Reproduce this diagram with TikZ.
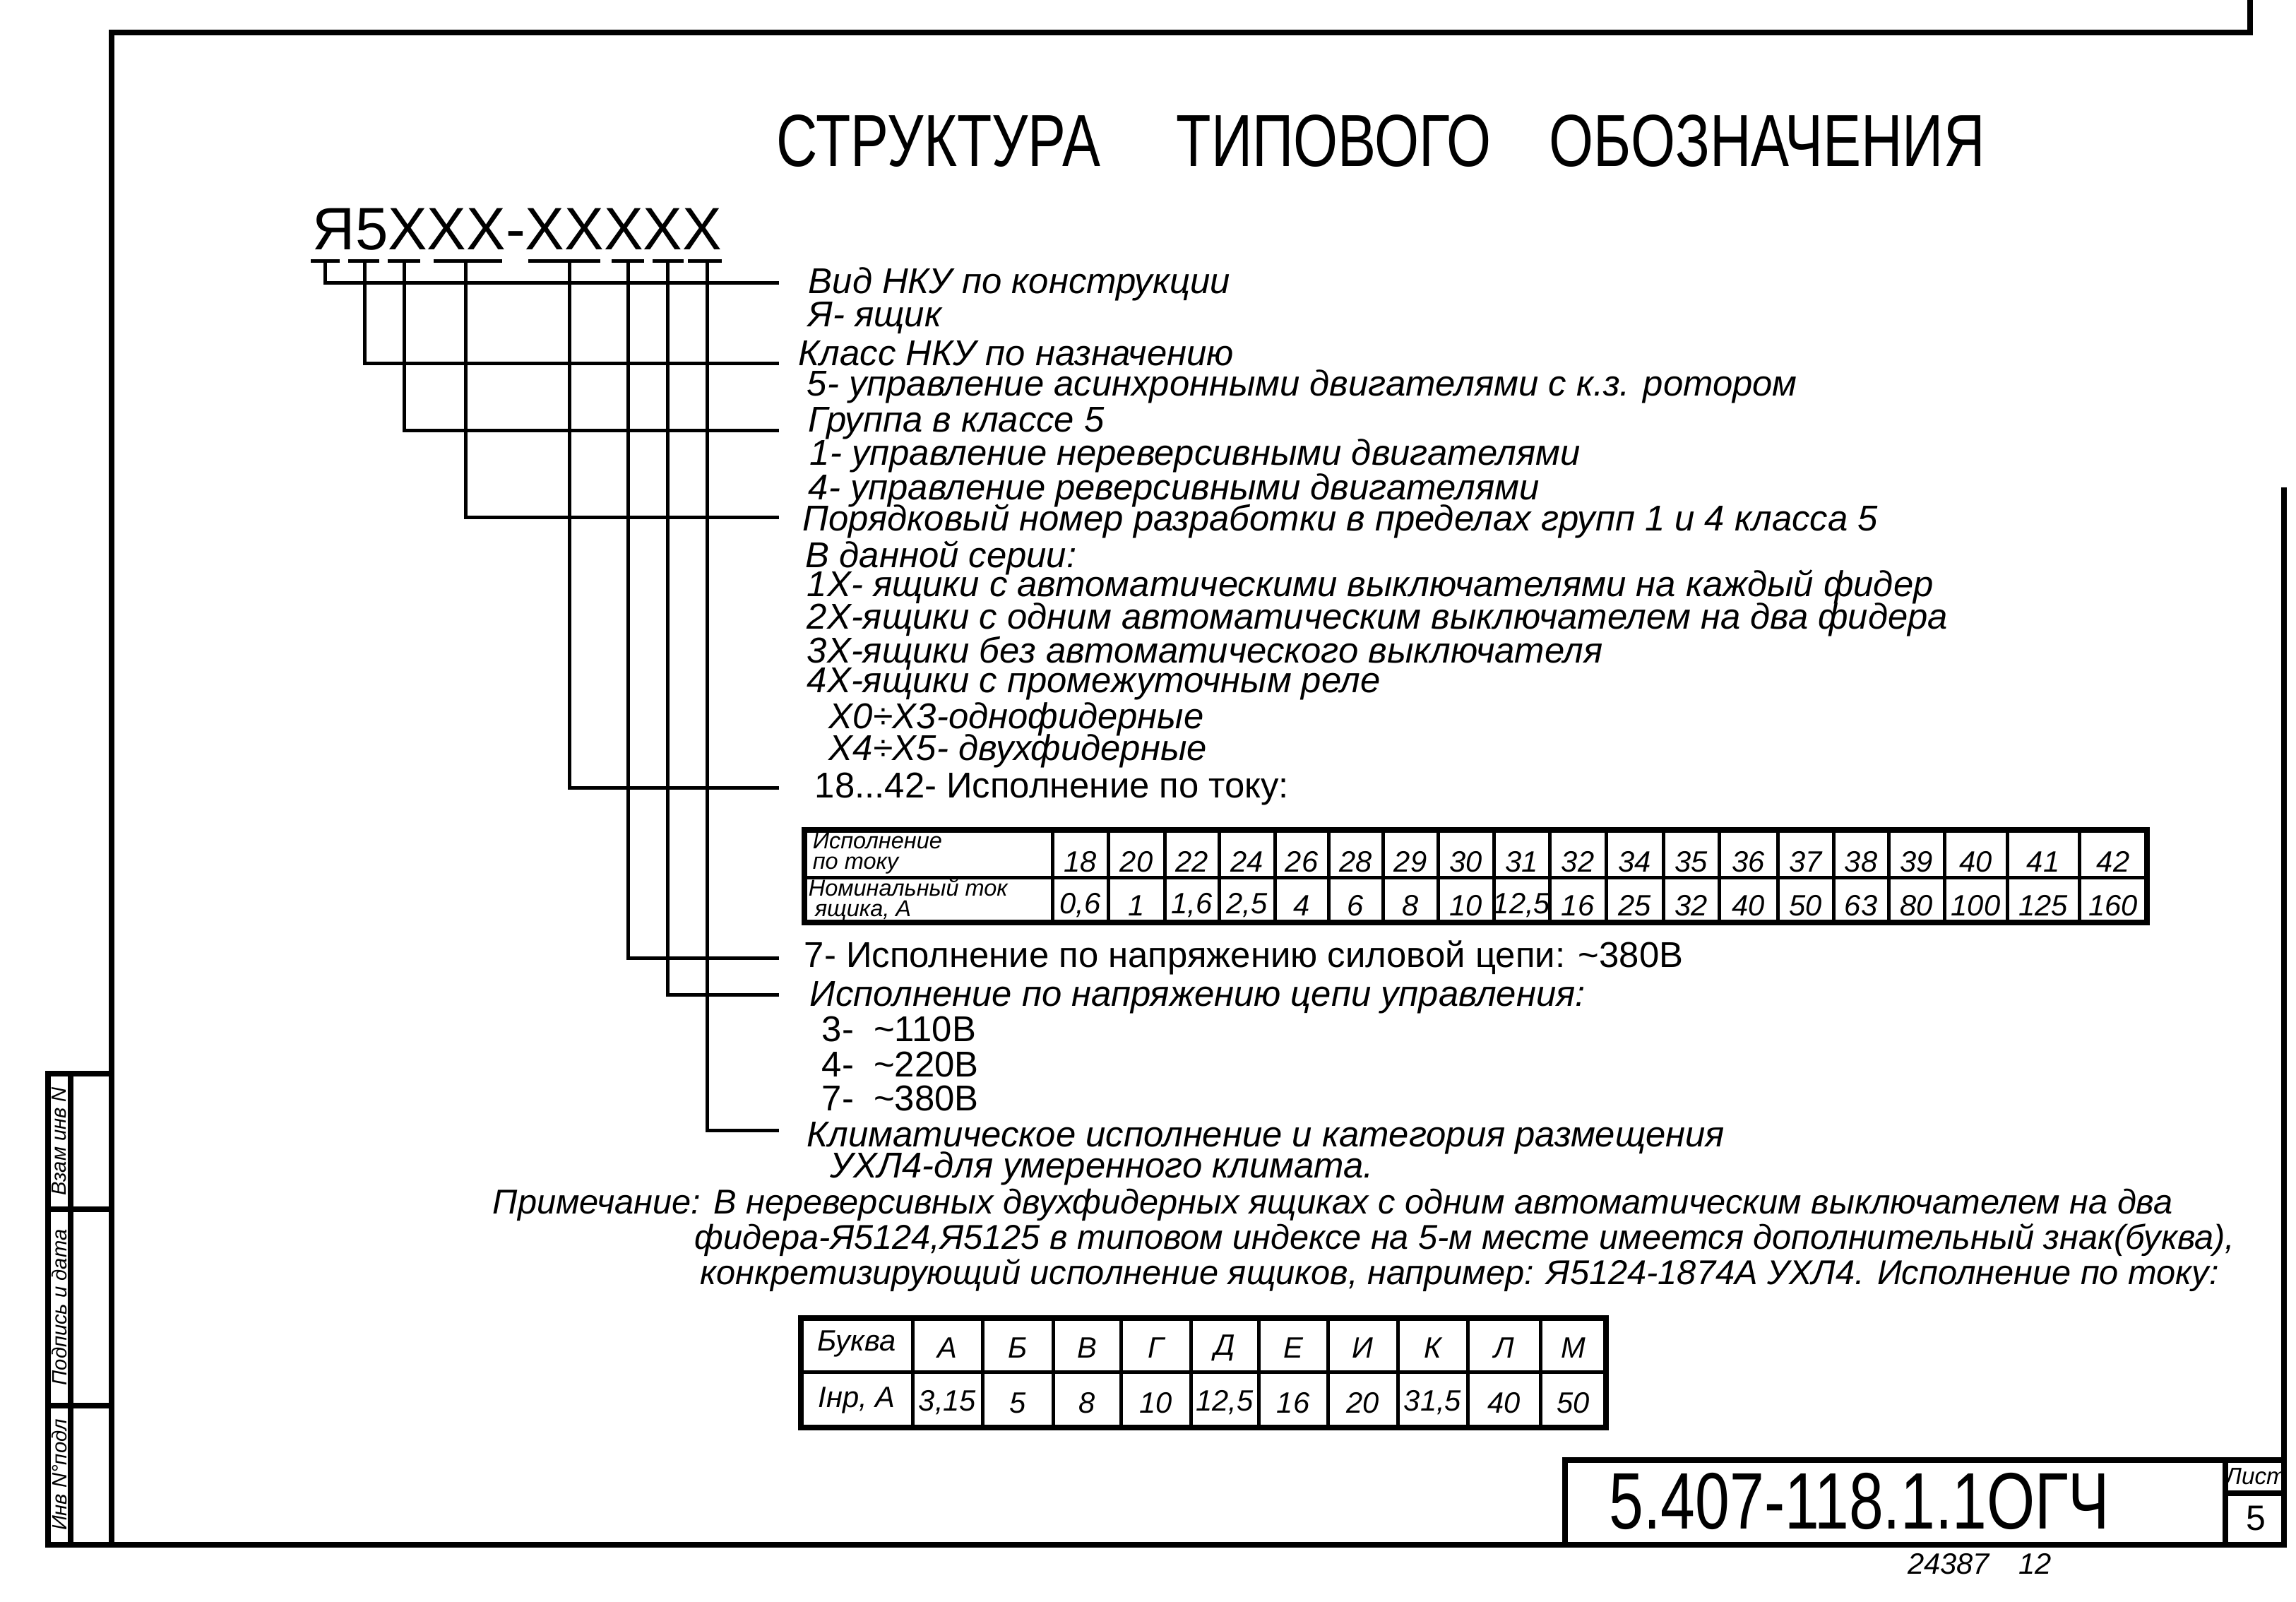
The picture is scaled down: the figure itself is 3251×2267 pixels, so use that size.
\documentclass[tikz,border=0pt]{standalone}
\usepackage{fontspec}
\setmainfont{Liberation Sans}
\usepackage{graphicx}
\tikzset{
  ln/.style={line width=1.2pt},
  fr/.style={line width=1.8pt},
  tx/.style={anchor=west,inner sep=0pt,font=\fontsize{12.2}{12.5}\selectfont\itshape},
  nt/.style={anchor=west,inner sep=0pt,font=\fontsize{11.7}{12}\selectfont\itshape},
  up/.style={anchor=west,inner sep=0pt,font=\fontsize{12.2}{12.5}\selectfont},
  cell/.style={inner sep=0pt,font=\fontsize{10}{10}\selectfont\itshape},
  small/.style={inner sep=0pt,align=left,font=\fontsize{7.8}{7}\selectfont\itshape},
}
\begin{document}
\begin{tikzpicture}[x=0.24pt,y=-0.24pt]
\useasboundingbox (0,0) rectangle (3251,2267);
% frame
\draw[fr] (3186,0) -- (3186,46) -- (158,46) -- (158,2187) -- (3234,2187) -- (3234,690);
\draw[fr] (68,1520) rectangle (158,2187);
\draw[fr] (100,1520) -- (100,2187) (68,1712) -- (158,1712) (68,1990) -- (158,1990);
\node[rotate=90,cell,font=\fontsize{7}{7}\selectfont\itshape] (s1) at (84,1616) {Взам инв N};
\node[rotate=90,cell,font=\fontsize{7}{7}\selectfont\itshape] (s2) at (84,1851) {Подпись и дата};
\node[rotate=90,cell,font=\fontsize{7}{7}\selectfont\itshape] (s3) at (84,2088) {Инв N°подл};
% title
\node[inner sep=0pt,anchor=south west] (t1) at (1099,237) {\resizebox{110pt}{17.5pt}{СТРУКТУРА}};
\node[inner sep=0pt,anchor=south west] (t2) at (1665,237) {\resizebox{107pt}{17.5pt}{ТИПОВОГО}};
\node[inner sep=0pt,anchor=south west] (t3) at (2193,237) {\resizebox{148pt}{17.5pt}{ОБОЗНАЧЕНИЯ}};
% code
\node[inner sep=0pt,anchor=south west] (code) at (442,355) {\resizebox{139pt}{14pt}{Я5XXX-XXXXX}};
% bars and stems
\foreach \a/\b/\s/\yy [count=\i] in {440/481/460/400,493/537/516/514,549/595/572/609,614/711/659/732,748/850/806/1115,866/912/889/1356,924/968/945/1408,974/1022/1001/1600}{
  \coordinate (bl\i) at (\a,369); \coordinate (br\i) at (\b,369);
  \coordinate (top\i) at (\s,369); \coordinate (knee\i) at (\s,\yy); \coordinate (end\i) at (1103,\yy);
  \draw[ln] (bl\i) -- (br\i);
  \draw[ln] (top\i) -- (knee\i) -- (end\i);
}
% texts
\node[tx] (l1) at (1144,402) {Вид НКУ по конструкции};
\node[tx] (l2) at (1144,450) {Я- ящик};
\node[tx] (l3) at (1130,500) {Класс НКУ по назначению};
\node[tx] (l4) at (1142,547) {5- управление асинхронными двигателями с к.з. ротором};
\node[tx] (l5) at (1144,599) {Группа в классе 5};
\node[tx] (l6) at (1146,645) {1- управление нереверсивными двигателями};
\node[tx] (l7) at (1144,694) {4- управление реверсивными двигателями};
\node[tx] (l8) at (1136,738) {Порядковый номер разработки в пределах групп 1 и 4 класса 5};
\node[tx] (l9) at (1140,790) {В данной серии:};
\node[tx] (l10) at (1142,831) {1Х- ящики с автоматическими выключателями на каждый фидер};
\node[tx] (l11) at (1142,877) {2Х-ящики с одним автоматическим выключателем на два фидера};
\node[tx] (l12) at (1142,925) {3Х-ящики без автоматического выключателя};
\node[tx] (l13) at (1142,968) {4Х-ящики с промежуточным реле};
\node[tx] (l14) at (1173,1018) {Х0÷Х3-однофидерные};
\node[tx] (l15) at (1173,1063) {Х4÷Х5- двухфидерные};
\node[up] (l16) at (1153,1117) {18...42- Исполнение по току:};
\node[up] (l17) at (1138,1356) {7- Исполнение по напряжению силовой цепи: \textasciitilde 380В};
\node[tx] (l18) at (1146,1412) {Исполнение по напряжению цепи управления:};
\node[up] (l19) at (1163,1457) {3- \ \textasciitilde 110В};
\node[up] (l20) at (1163,1507) {4- \ \textasciitilde 220В};
\node[up] (l21) at (1163,1555) {7- \ \textasciitilde 380В};
\node[tx] (l22) at (1142,1611) {Климатическое исполнение и категория размещения};
\node[tx] (l23) at (1175,1654) {УХЛ4-для умеренного климата.};
\node[nt] (n1) at (697,1706) {Примечание: В нереверсивных двухфидерных ящиках с одним автоматическим выключателем на два};
\node[nt] (n2) at (983,1756) {фидера-Я5124,Я5125 в типовом индексе на 5-м месте имеется дополнительный знак(буква),};
\node[nt] (n3) at (991,1806) {конкретизирующий исполнение ящиков, например: Я5124-1874А УХЛ4. Исполнение по току:};
% table 1
\draw[fr] (1139,1175) rectangle (3040,1306);
\draw[ln] (1139,1242) -- (3040,1242);
\node[small,anchor=west] (h1) at (1150,1208) {Исполнение\\ по току};
\node[small,anchor=west] (h2) at (1144,1274) {Номинальный ток\\ \ ящика, А};
\foreach \xa/\xb/\u/\v in {1490/1569/18/{0,6}, 1569/1649/20/1, 1649/1726/22/{1,6}, 1726/1805/24/{2,5}, 1805/1881/26/4, 1881/1958/28/6, 1958/2036/29/8, 2036/2115/30/10, 2115/2194/31/{12,5}, 2194/2274/32/16, 2274/2355/34/25, 2355/2434/35/32, 2434/2517/36/40, 2517/2596/37/50, 2596/2674/38/63, 2674/2753/39/80, 2753/2842/40/100, 2842/2944/41/125, 2944/3040/42/160}{
  \draw[ln] (\xa,1175) -- (\xa,1306);
  \node[cell] at ({(\xa+\xb)/2},1220) {\u};
  \node[cell] at ({(\xa+\xb)/2},1282) {\v};
}
% table 2
\draw[fr] (1134,1866) rectangle (2274,2021);
\draw[ln] (1134,1942) -- (2274,1942);
\node[cell] (b1) at (1213,1902) {Буква};
\node[cell] (b2) at (1213,1982) {Iнр, А};
\foreach \xa/\xb/\u/\v in {1292/1391/А/{3,15}, 1391/1491/Б/5, 1491/1587/В/8, 1587/1686/Г/10, 1686/1782/Д/{12,5}, 1782/1880/Е/16, 1880/1979/И/20, 1979/2078/К/{31,5}, 2078/2181/Л/40, 2181/2274/М/50}{
  \draw[ln] (\xa,1866) -- (\xa,2021);
  \node[cell] at ({(\xa+\xb)/2},1908) {\u};
  \node[cell] at ({(\xa+\xb)/2},1986) {\v};
}
% stamp
\draw[fr] (2216,2187) -- (2216,2067) -- (3234,2067);
\draw[fr] (3151,2067) -- (3151,2187) (3151,2114) -- (3234,2114);
\node[inner sep=0pt] (code2) at (2633,2125) {\resizebox{170pt}{19pt}{5.407-118.1.1ОГЧ}};
\node[cell,font=\fontsize{8}{8}\selectfont\itshape] (list) at (3194,2090) {Лист};
\node[cell,font=\fontsize{12}{12}\selectfont] (lnum) at (3194,2150) {5};
\node[cell,font=\fontsize{10}{10}\selectfont\itshape] (arch) at (2803,2214) {24387\quad 12};
\end{tikzpicture}
\end{document}
